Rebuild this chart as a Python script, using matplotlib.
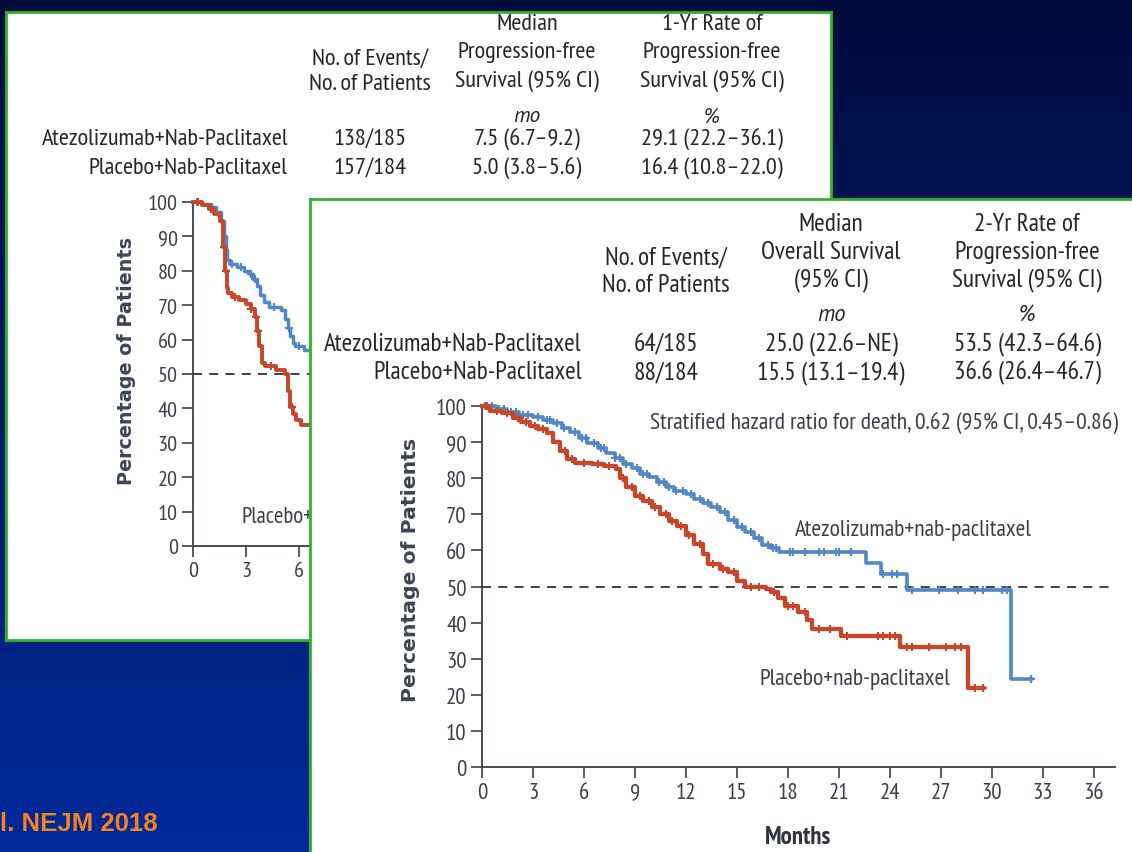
import numpy as np
import matplotlib
matplotlib.use("Agg")
import matplotlib.pyplot as plt
from matplotlib import font_manager as fm

# ---------------- data ----------------
# Panel 1: progression-free survival (only first months visible)
pfs_atezo_t = [0, 0.5, 1.0, 1.3, 1.6, 1.75, 1.85, 1.95, 2.1, 2.5, 2.9, 3.2, 3.4, 3.6, 3.8, 4.0, 4.3, 5.0, 5.2, 5.35, 5.5, 5.65, 5.8, 6.3, 7.0]
pfs_atezo_s = [100, 99.5, 98.5, 97, 94.5, 90, 86, 83, 82, 81, 80, 79, 77.5, 75.5, 73, 71, 69.5, 68.5, 66, 63.5, 61, 59, 58, 57, 57]
pfs_atezo_cens = [0.2, 1.1, 2.2, 2.7, 3.3, 3.5, 4.6, 5.45, 6.0]
pfs_plac_t = [0, 0.5, 0.9, 1.2, 1.55, 1.7, 1.8, 1.9, 2.0, 2.2, 2.6, 3.0, 3.3, 3.5, 3.6, 3.75, 3.9, 4.1, 4.7, 5.2, 5.35, 5.5, 5.65, 5.85, 6.1, 7.0]
pfs_plac_s = [100, 99, 98, 96.5, 94.5, 87, 80, 75, 73.5, 72.5, 71.5, 70.3, 69, 66.5, 62.5, 58, 53.2, 52.2, 51.3, 50, 45, 40.5, 38.5, 36.5, 35.2, 35]
pfs_plac_cens = [0.3, 1.0, 1.75, 1.85, 2.4, 3.3, 3.55, 3.7, 4.4, 5.6]

# Panel 2: overall survival
os_atezo_t = [0, 0.8, 1.5, 2.2, 3.0, 3.6, 4.2, 4.7, 5.2, 5.7, 6.2, 6.8, 7.3, 7.8, 8.3, 8.8, 9.3, 9.8, 10.3, 10.8, 11.3, 12.0, 12.5, 13.0, 13.5, 14.0, 14.5, 15.0, 15.5, 16.0, 16.5, 17.0, 17.5, 22.6, 23.5, 25.0, 31.1, 32.3]
os_atezo_s = [100, 99.2, 98.3, 97.6, 97, 96.2, 95.3, 94, 92.8, 91.2, 89.8, 88.3, 87, 85.5, 84, 82.8, 81.3, 80.2, 78.9, 77.6, 76.4, 75.6, 74.3, 73, 72, 70.5, 68.5, 66.5, 65.2, 63.5, 61.5, 60.6, 59.6, 56.4, 53.4, 48.9, 24.4, 24.4]
os_atezo_cens = [0.2, 0.6, 1.0, 1.3, 1.7, 2.0, 2.4, 2.7, 3.3, 3.8, 4.0, 4.4, 4.8, 5.5, 5.9, 6.1, 6.6, 7.0, 7.2, 7.8, 8.1, 8.5, 9.1, 9.5, 9.7, 10.4, 10.7, 11.0, 11.4, 11.8, 12.3, 12.8, 13.3, 13.8, 14.3, 14.8, 15.3, 15.8, 16.3, 16.8, 17.1, 17.3, 18.1, 18.3, 19.0, 19.8, 20.1, 20.8, 21.0, 21.7, 23.6, 24.1, 24.4, 25.3, 26.9, 28.0, 29.0, 29.5, 30.6, 30.9, 32.3]
os_plac_t = [0, 0.5, 1.2, 1.8, 2.3, 2.8, 3.3, 3.8, 4.2, 4.6, 5.0, 5.5, 6.5, 7.2, 7.9, 8.1, 8.5, 9.0, 9.5, 10.0, 10.5, 11.0, 11.5, 12.0, 12.5, 13.0, 13.3, 14.0, 14.5, 15.0, 15.5, 16.7, 17.0, 17.4, 17.8, 18.6, 19.1, 19.4, 21.1, 24.6, 28.6, 29.5]
os_plac_s = [100, 98.7, 98, 96.8, 95.5, 94.5, 93.6, 92.4, 90, 87.5, 85.2, 84.2, 84, 83.4, 82.5, 80, 77.6, 75, 73.8, 72, 70, 68.2, 66.8, 64.2, 61.8, 59, 56.2, 54.8, 54, 51.5, 50, 49.3, 48.6, 46.8, 44.5, 43, 40.8, 38.3, 36.2, 33.2, 22, 22]
os_plac_cens = [0.3, 0.9, 1.5, 2.1, 2.6, 3.1, 3.6, 4.9, 5.3, 6.0, 6.8, 7.5, 8.3, 8.8, 9.3, 9.8, 10.2, 10.8, 11.2, 11.7, 12.2, 12.8, 13.6, 14.2, 14.8, 15.8, 16.3, 17.2, 18.0, 18.3, 19.0, 19.8, 20.5, 21.5, 23.3, 23.6, 24.0, 24.3, 25.0, 25.3, 26.3, 27.3, 27.8, 28.2, 29.0, 29.5]

y_ticks = [0, 10, 20, 30, 40, 50, 60, 70, 80, 90, 100]
x_ticks1 = [0, 3, 6]
x_ticks2 = [0, 3, 6, 9, 12, 15, 18, 21, 24, 27, 30, 33, 36]

groups = ["Atezolizumab+Nab-Paclitaxel", "Placebo+Nab-Paclitaxel"]
table_units = ["", "mo", "%"]
table_cols1 = [["No. of Events/", "No. of Patients"],
               ["Median", "Progression-free", "Survival (95% CI)"],
               ["1-Yr Rate of", "Progression-free", "Survival (95% CI)"]]
table_rows1 = [["138/185", "7.5 (6.7\u20139.2)", "29.1 (22.2\u201336.1)"],
               ["157/184", "5.0 (3.8\u20135.6)", "16.4 (10.8\u201322.0)"]]
table_cols2 = [["No. of Events/", "No. of Patients"],
               ["Median", "Overall Survival", "(95% CI)"],
               ["2-Yr Rate of", "Progression-free", "Survival (95% CI)"]]
table_rows2 = [["64/185", "25.0 (22.6\u2013NE)", "53.5 (42.3\u201364.6)"],
               ["88/184", "15.5 (13.1\u201319.4)", "36.6 (26.4\u201346.7)"]]

# ---------------- style ----------------
W, H = 1132, 853
names = {f.name for f in fm.fontManager.ttflist}
pref = ["PT Sans Narrow", "Fira Sans Condensed", "Roboto Condensed",
        "Liberation Sans Narrow", "Liberation Sans"]
NARROW = next((p for p in pref if p in names), "DejaVu Sans")
ITAL = [f for f in ["PT Sans", "Fira Sans Condensed", "Liberation Sans"] if f in names] + ["DejaVu Sans"]
plt.rcParams["font.family"] = [NARROW, "DejaVu Sans"]

BLUE = "#4f87c7"
RED = "#c8462a"
GREEN = "#2bb52b"
TXT = "#262626"
AX = "#3a3f4a"
LAB = "#3d4455"

fig = plt.figure(figsize=(W / 100, H / 100), dpi=100)


def fr(x0, y0, x1, y1):
    return [x0 / W, 1 - y1 / H, (x1 - x0) / W, (y1 - y0) / H]


def P(x, y):
    return x / W, 1 - y / H


# background gradient
ax_bg = fig.add_axes([0, 0, 1, 1], zorder=0)
top = np.array([2, 12, 60]) / 255.0
bot = np.array([0, 42, 155]) / 255.0
g = np.linspace(0, 1, 256)[:, None]
grad = top[None, :] * (1 - g) + bot[None, :] * g
ax_bg.imshow(grad[:, None, :], aspect="auto", extent=[0, 1, 0, 1])
ax_bg.set_xlim(0, 1)
ax_bg.set_ylim(0, 1)
ax_bg.set_axis_off()
ax_bg.text(*P(0, 822), "l. NEJM 2018", transform=fig.transFigure,
           color="#f5821f", fontsize=18.5, fontweight="bold", family="Liberation Sans",
           ha="left", va="center_baseline")


def box(rect, z, hide=()):
    b = fig.add_axes(rect, zorder=z)
    b.set_facecolor("white")
    b.set_xticks([])
    b.set_yticks([])
    for k, s in b.spines.items():
        s.set_color(GREEN)
        s.set_linewidth(2)
        if k in hide:
            s.set_visible(False)
    return b


def surv_at(t, T, S):
    idx = np.searchsorted(np.asarray(T), np.asarray(t), side="right") - 1
    return np.asarray(S)[idx]


def km(ax, T, S, cens, color, lw, ms):
    ax.step(T, S, where="post", color=color, lw=lw, clip_on=False, zorder=3)
    ax.plot(cens, surv_at(cens, T, S), ls="none", marker="+", color=color,
            ms=ms, mew=1.5, clip_on=False, zorder=3)


def style_axes(ax, xmax, xt, fs):
    ax.set_facecolor("none")
    ax.set_xlim(0, xmax)
    ax.set_ylim(0, 100)
    ax.spines["top"].set_visible(False)
    ax.spines["right"].set_visible(False)
    for s in ("left", "bottom"):
        ax.spines[s].set_color(AX)
        ax.spines[s].set_linewidth(1.3)
    ax.set_yticks(y_ticks)
    ax.set_xticks(xt)
    ax.tick_params(direction="out", length=8, width=1.2, color=AX,
                   labelsize=fs, labelcolor=AX, pad=3)
    ax.axhline(50, color="#333333", lw=1.3, ls=(0, (5, 4)), zorder=2)


def table(b, col_x, heads, rows, head_y3, head_y2, unit_y, row_y, label_x, fs):
    T = fig.transFigure
    for cx, head, unit in zip(col_x, heads, table_units):
        ys = head_y3 if len(head) == 3 else head_y2
        for line, y in zip(head, ys):
            b.text(*P(cx, y), line, transform=T, ha="center", va="center_baseline",
                   fontsize=fs, color=TXT)
        if unit:
            b.text(*P(cx, unit_y), unit, transform=T, ha="center", va="center_baseline",
                   fontsize=fs - 2, color=TXT, style="italic", family=ITAL)
    for gname, vals, y in zip(groups, rows, row_y):
        b.text(*P(label_x, y), gname, transform=T, ha="right", va="center_baseline",
               fontsize=fs, color=TXT)
        for cx, v in zip(col_x, vals):
            b.text(*P(cx, y), v, transform=T, ha="center", va="center_baseline",
                   fontsize=fs, color=TXT)


# ---------------- panel 1 ----------------
b1 = box(fr(6, 13, 831, 641), 1)
table(b1, [370, 527, 712], table_cols1, table_rows1,
      head_y3=[22, 50, 78], head_y2=[57, 82], unit_y=115, row_y=[137, 166],
      label_x=288, fs=17.6)
b1.text(*P(127, 361), "Percentage of Patients", transform=fig.transFigure, rotation=90,
        ha="center", va="center", fontsize=13.8, fontweight="bold", family="DejaVu Sans",
        color=LAB)

ax1 = fig.add_axes(fr(193, 203, 318, 547), zorder=2)
style_axes(ax1, (318 - 193) / 17.67, x_ticks1, 16)
km(ax1, pfs_atezo_t, pfs_atezo_s, pfs_atezo_cens, BLUE, 2.5, 5.5)
km(ax1, pfs_plac_t, pfs_plac_s, pfs_plac_cens, RED, 2.8, 5.5)
t1 = ax1.text(2.75, 8.5, "Placebo+nab-paclitaxel", fontsize=16.5, color=AX, ha="left", va="center")
t1.set_clip_on(True)

# ---------------- panel 2 ----------------
b2 = box(fr(310, 200, 1145, 870), 3, hide=("right", "bottom"))
table(b2, [666, 831, 1027], table_cols2, table_rows2,
      head_y3=[222, 250, 277], head_y2=[255, 283], unit_y=313, row_y=[342, 370],
      label_x=582, fs=18.3)
b2.text(*P(410, 570), "Percentage of Patients", transform=fig.transFigure, rotation=90,
        ha="center", va="center", fontsize=14.7, fontweight="bold", family="DejaVu Sans",
        color=LAB)

ax2 = fig.add_axes(fr(482, 407, 1115, 768), zorder=4)
style_axes(ax2, (1115 - 482) / 17.0, x_ticks2, 16.5)
km(ax2, os_atezo_t, os_atezo_s, os_atezo_cens, BLUE, 2.6, 6)
km(ax2, os_plac_t, os_plac_s, os_plac_cens, RED, 3.1, 6)
ax2.set_xlabel("Months", fontsize=18, fontweight="bold", color="#2f3340", labelpad=16)
ax2.text(9.9, 95.3, "Stratified hazard ratio for death, 0.62 (95% CI, 0.45\u20130.86)",
         fontsize=17, color=AX, ha="left", va="center")
ax2.text(18.4, 65.8, "Atezolizumab+nab-paclitaxel", fontsize=17, color=AX, ha="left", va="center")
ax2.text(16.35, 24.4, "Placebo+nab-paclitaxel", fontsize=17, color=AX, ha="left", va="center")

fig.savefig("out.png", dpi=100)
